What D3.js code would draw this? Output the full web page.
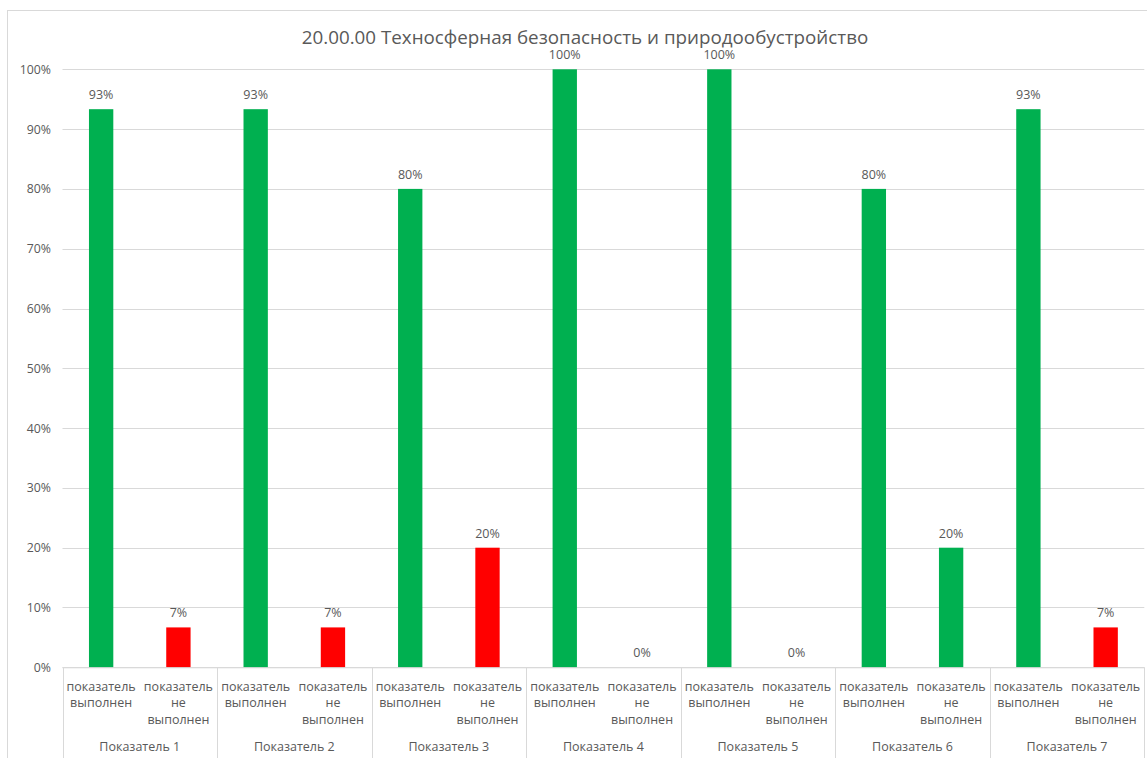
<!DOCTYPE html>
<html><head><meta charset="utf-8">
<script src="https://cdn.jsdelivr.net/npm/d3@7"></script>
<style>body{margin:0;background:#fff}svg{display:block}text{font-family:"Open Sans",sans-serif}</style>
</head><body><svg id="c" width="1147" height="758"></svg>
<script>
const title = "20.00.00 Техносферная безопасность и природообустройство";
const groups = ["Показатель 1","Показатель 2","Показатель 3","Показатель 4","Показатель 5","Показатель 6","Показатель 7"];
const subcats = ["показатель выполнен","показатель не выполнен"];
const subcatLines = [["показатель","выполнен"],["показатель","не","выполнен"]];
const doneValues = [0.9333,0.9333,0.80,1.00,1.00,0.80,0.9333];
const notDoneValues = [0.0667,0.0667,0.20,0.00,0.00,0.20,0.0667];
const notDoneColors = ["#FF0000","#FF0000","#FF0000","#FF0000","#FF0000","#00B050","#FF0000"];
const yTicks = [0,0.1,0.2,0.3,0.4,0.5,0.6,0.7,0.8,0.9,1.0];

const svg = d3.select("#c");
const L = 62.5, R = 1144.3, T = 69.3, B = 667.3;
svg.append("rect").attr("x",7.5).attr("y",10.5).attr("width",1200).attr("height",800)
  .attr("fill","#fff").attr("stroke","#d9d9d9");

const y = d3.scaleLinear().domain([0,1]).range([B,T]);
const x0 = d3.scaleBand().domain(groups).range([L,R]);
const x1 = d3.scaleBand().domain(subcats).range([0,x0.bandwidth()]);
const barW = x1.bandwidth()*0.315;

// gridlines
svg.append("g").selectAll("line").data(yTicks).join("line")
  .attr("x1",L).attr("x2",R).attr("y1",d=>Math.round(y(d))+0.5).attr("y2",d=>Math.round(y(d))+0.5)
  .attr("stroke","#d9d9d9").attr("stroke-width",1);

// y labels
const fmt = d3.format(".0%");
svg.append("g").selectAll("text").data(yTicks).join("text")
  .attr("x",51).attr("y",d=>y(d)+4.5).attr("text-anchor","end")
  .attr("font-size",12.3).attr("fill","#595959").text(d=>fmt(d));

// bars
const data = [];
groups.forEach((g,i)=>{
  data.push({g, s:subcats[0], v:doneValues[i], c:"#00B050"});
  data.push({g, s:subcats[1], v:notDoneValues[i], c:notDoneColors[i]});
});
const bx = d => x0(d.g)+x1(d.s)+x1.bandwidth()/2;
svg.append("g").selectAll("rect").data(data).join("rect")
  .attr("x",d=>bx(d)-barW/2).attr("width",barW)
  .attr("y",d=>y(d.v)).attr("height",d=>B-y(d.v)).attr("fill",d=>d.c);
svg.append("g").selectAll("text").data(data).join("text")
  .attr("x",bx).attr("y",d=>y(d.v)-10).attr("text-anchor","middle")
  .attr("font-size",12.5).attr("fill","#595959").text(d=>fmt(d.v));

// category axis lines
svg.append("line").attr("x1",L).attr("x2",R).attr("y1",B+0.5).attr("y2",B+0.5).attr("stroke","#d9d9d9");
const bounds = groups.map(g=>x0(g)).concat([R]);
svg.append("g").selectAll("line").data(bounds).join("line")
  .attr("x1",d=>Math.round(d)+0.5).attr("x2",d=>Math.round(d)+0.5).attr("y1",B).attr("y2",758)
  .attr("stroke","#d9d9d9");

// subcategory labels
groups.forEach(g=>{
  subcats.forEach((s,j)=>{
    const t = svg.append("text").attr("text-anchor","middle").attr("font-size",12.5).attr("fill","#595959");
    subcatLines[j].forEach((ln,k)=>{
      t.append("tspan").attr("x",x0(g)+x1(s)+x1.bandwidth()/2).attr("y",691+k*16.4).text(ln);
    });
  });
});
svg.append("g").selectAll("text").data(groups).join("text")
  .attr("x",d=>x0(d)+x0.bandwidth()/2).attr("y",750.5).attr("text-anchor","middle")
  .attr("font-size",12.5).attr("fill","#595959").text(d=>d);

svg.append("text").attr("x",585).attr("y",43.5).attr("text-anchor","middle")
  .attr("font-size",18.8).attr("fill","#595959").text(title);
</script></body></html>
